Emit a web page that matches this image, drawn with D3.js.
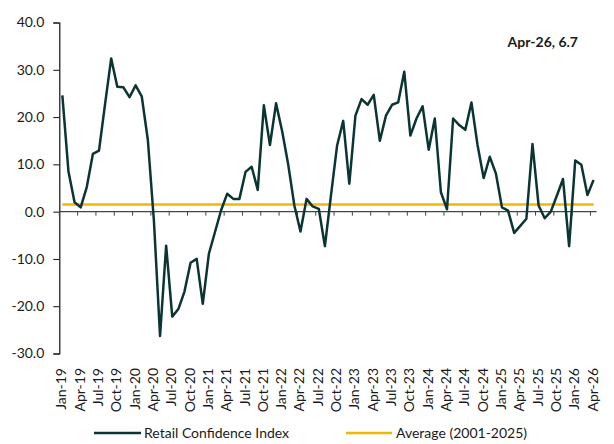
<!DOCTYPE html>
<html>
<head>
<meta charset="utf-8">
<script src="https://cdn.jsdelivr.net/npm/d3@7"></script>
<style>
  html, body { margin: 0; padding: 0; background: #fff; }
  svg { display: block; }
  text { font-family: Lato, "Open Sans", sans-serif; fill: #1a1a1a; }
</style>
</head>
<body>
<svg id="chart" width="614" height="444"></svg>
<script>
// ---- data ----
const startMonth = new Date(2019, 0, 1);
const months = d3.timeMonth.range(startMonth, new Date(2026, 4, 1)).map(d3.timeFormat("%b-%y"));
const retailValues = [
  24.6, 8.5, 2.0, 0.9, 5.2, 12.2, 12.9, 22.8, 32.4, 26.4, 26.3, 24.2,
  26.7, 24.4, 15.2, -2.0, -26.3, -7.2, -22.2, -20.6, -16.9, -10.8, -10.0, -19.5,
  -8.9, -4.3, 0.3, 3.8, 2.7, 2.7, 8.4, 9.5, 4.6, 22.5, 14.1, 22.9,
  17.0, 9.9, 1.3, -4.2, 2.7, 1.1, 0.6, -7.3, 3.5, 14.0, 19.2, 5.9,
  20.3, 23.8, 22.6, 24.7, 15.0, 20.3, 22.6, 23.1, 29.6, 16.1, 19.7, 22.3,
  13.1, 19.7, 4.1, 0.5, 19.7, 18.3, 17.3, 23.1, 14.1, 7.1, 11.6, 8.1,
  0.9, 0.2, -4.5, -3.0, -1.5, 14.3, 1.3, -1.4, 0.0, 3.4, 6.9, -7.3,
  10.8, 9.9, 3.5, 6.7
];
const averageValue = 1.5;
const yTicks = [-30, -20, -10, 0, 10, 20, 30, 40];
const seriesNames = ["Retail Confidence Index", "Average (2001-2025)"];
const annotationText = "Apr-26, 6.7";

// ---- layout ----
const svg = d3.select("#chart");
const lineColor = "#0b3533";
const avgColor = "#f2b705";
const axisColor = "#444";

const x = d3.scaleBand().domain(months).range([59.3, 596.6]).padding(0);
const y = d3.scaleLinear().domain([-30, 40]).range([353.5, 22.5]);
const cx = m => x(m) + x.bandwidth() / 2;

// y axis
const yAxis = d3.axisLeft(y).tickValues(yTicks)
  .tickFormat(d => d.toFixed(1))
  .tickSize(6).tickPadding(9);
const gy = svg.append("g").attr("transform", `translate(${x.range()[0]},0)`).call(yAxis);
gy.select(".domain").attr("stroke", "#111").attr("stroke-width", 1.2);
gy.selectAll(".tick line").attr("stroke", "#111");
gy.selectAll(".tick text").style("font-size", "14px").style("font-family", "Lato, sans-serif").attr("fill", "#1a1a1a");

// zero axis line
const tickMonths = months.filter((m, i) => i % 3 === 0);
svg.append("line")
  .attr("x1", x.range()[0]).attr("x2", x.range()[1])
  .attr("y1", y(0)).attr("y2", y(0))
  .attr("stroke", axisColor).attr("stroke-width", 1.2);
svg.append("g").selectAll("line").data(tickMonths).join("line")
  .attr("x1", d => x(d)).attr("x2", d => x(d))
  .attr("y1", y(0)).attr("y2", y(0) + 4)
  .attr("stroke", axisColor).attr("stroke-width", 1);

// x labels at bottom
svg.append("g").selectAll("text").data(tickMonths).join("text")
  .attr("transform", d => `translate(${cx(d) + 4},368) rotate(-90)`)
  .attr("text-anchor", "end")
  .style("font-size", "14px")
  .text(d => d);

// average line
svg.append("line")
  .attr("x1", cx(months[0])).attr("x2", cx(months[months.length - 1]))
  .attr("y1", y(averageValue)).attr("y2", y(averageValue))
  .attr("stroke", avgColor).attr("stroke-width", 2.5);

// series line
const line = d3.line().x((d, i) => cx(months[i])).y(d => y(d));
svg.append("path").datum(retailValues)
  .attr("d", line)
  .attr("fill", "none")
  .attr("stroke", lineColor)
  .attr("stroke-width", 2.5)
  .attr("stroke-linejoin", "round");

// annotation
svg.append("text")
  .attr("x", 578).attr("y", 47)
  .attr("text-anchor", "end")
  .style("font-size", "14px").style("font-weight", "bold")
  .text(annotationText);

// legend
const legend = svg.append("g");
const legendItems = [
  { name: seriesNames[0], color: lineColor, x1: 94, x2: 141, tx: 144 },
  { name: seriesNames[1], color: avgColor, x1: 346, x2: 392, tx: 396 }
];
legendItems.forEach(it => {
  legend.append("line").attr("x1", it.x1).attr("x2", it.x2).attr("y1", 433).attr("y2", 433)
    .attr("stroke", it.color).attr("stroke-width", 2.5);
  legend.append("text").attr("x", it.tx).attr("y", 438).style("font-size", "14px").text(it.name);
});
</script>
</body>
</html>
